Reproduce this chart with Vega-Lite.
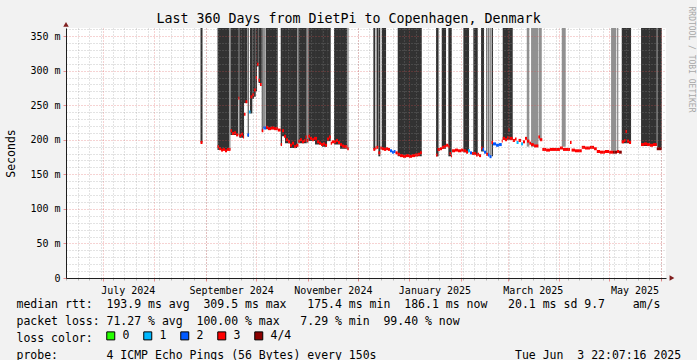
{
  "$schema": "https://vega.github.io/schema/vega-lite/v6.json",
  "width": 600,
  "height": 250,
  "autosize": {"type": "none"},
  "padding": {"left": 66, "top": 28, "right": 31, "bottom": 82},
  "background": "#f2f2f2",
  "config": {"font": "DejaVu Sans Mono", "view": {"stroke": null, "fill": "#ffffff"}},
  "datasets": {
    "smoke": [
      {"t0":"2024-08-28T15:00","t1":"2024-08-29T20:00","low":196,"shade":"dark"},
      {"t0":"2024-09-07T20:00","t1":"2024-09-14T18:00","low":185,"shade":"dark"},
      {"t0":"2024-09-14T18:00","t1":"2024-09-15T15:00","low":185,"shade":"light"},
      {"t0":"2024-09-15T15:00","t1":"2024-09-20T08:00","low":207,"shade":"dark"},
      {"t0":"2024-09-20T08:00","t1":"2024-09-20T22:00","low":259,"shade":"dark"},
      {"t0":"2024-09-20T22:00","t1":"2024-09-23T18:00","low":203,"shade":"dark"},
      {"t0":"2024-09-23T18:00","t1":"2024-09-25T17:00","low":253,"shade":"dark"},
      {"t0":"2024-09-25T23:00","t1":"2024-09-26T13:00","low":204,"shade":"dark"},
      {"t0":"2024-09-27T08:00","t1":"2024-09-28T17:00","low":238,"shade":"dark"},
      {"t0":"2024-09-28T17:00","t1":"2024-09-29T18:00","low":259,"shade":"dark"},
      {"t0":"2024-09-29T18:00","t1":"2024-09-30T18:00","low":262,"shade":"dark"},
      {"t0":"2024-09-30T18:00","t1":"2024-10-01T13:00","low":270,"shade":"dark"},
      {"t0":"2024-10-01T13:00","t1":"2024-10-02T11:00","low":306,"shade":"dark"},
      {"t0":"2024-10-02T11:00","t1":"2024-10-04T09:00","low":282,"shade":"dark"},
      {"t0":"2024-10-04T09:00","t1":"2024-10-04T23:00","low":212,"shade":"dark"},
      {"t0":"2024-10-04T23:00","t1":"2024-10-06T12:00","low":217,"shade":"light"},
      {"t0":"2024-10-06T18:00","t1":"2024-10-13T23:00","low":215,"shade":"dark"},
      {"t0":"2024-10-15T18:00","t1":"2024-10-16T13:00","low":192,"shade":"dark"},
      {"t0":"2024-10-16T13:00","t1":"2024-10-18T08:00","low":205,"shade":"dark"},
      {"t0":"2024-10-18T08:00","t1":"2024-10-21T08:00","low":195,"shade":"dark"},
      {"t0":"2024-10-21T08:00","t1":"2024-10-25T13:00","low":188,"shade":"dark"},
      {"t0":"2024-10-25T13:00","t1":"2024-10-26T08:00","low":190,"shade":"light"},
      {"t0":"2024-10-26T08:00","t1":"2024-10-31T09:00","low":195,"shade":"dark"},
      {"t0":"2024-10-31T09:00","t1":"2024-11-01T08:00","low":195,"shade":"light"},
      {"t0":"2024-11-01T08:00","t1":"2024-11-05T08:00","low":198,"shade":"dark"},
      {"t0":"2024-11-05T08:00","t1":"2024-11-09T13:00","low":193,"shade":"dark"},
      {"t0":"2024-11-09T13:00","t1":"2024-11-12T13:00","low":190,"shade":"dark"},
      {"t0":"2024-11-12T13:00","t1":"2024-11-14T18:00","low":198,"shade":"dark"},
      {"t0":"2024-11-16T18:00","t1":"2024-11-20T08:00","low":193,"shade":"dark"},
      {"t0":"2024-11-20T08:00","t1":"2024-11-24T17:00","low":187,"shade":"dark"},
      {"t0":"2024-11-24T17:00","t1":"2024-11-25T13:00","low":186,"shade":"light"},
      {"t0":"2024-12-10T08:00","t1":"2024-12-11T12:00","low":186,"shade":"dark"},
      {"t0":"2024-12-12T06:00","t1":"2024-12-13T03:00","low":190,"shade":"dark"},
      {"t0":"2024-12-13T08:00","t1":"2024-12-14T12:00","low":176,"shade":"dark"},
      {"t0":"2024-12-15T09:00","t1":"2024-12-17T23:00","low":186,"shade":"dark"},
      {"t0":"2024-12-24T23:00","t1":"2025-01-08T09:00","low":176,"shade":"dark"},
      {"t0":"2025-01-16T23:00","t1":"2025-01-18T11:00","low":176,"shade":"dark"},
      {"t0":"2025-01-20T09:00","t1":"2025-01-22T23:00","low":187,"shade":"dark"},
      {"t0":"2025-01-24T08:00","t1":"2025-01-26T09:00","low":176,"shade":"dark"},
      {"t0":"2025-02-02T08:00","t1":"2025-02-05T18:00","low":182,"shade":"dark"},
      {"t0":"2025-02-08T08:00","t1":"2025-02-10T23:00","low":178,"shade":"dark"},
      {"t0":"2025-02-12T23:00","t1":"2025-02-14T18:00","low":183,"shade":"dark"},
      {"t0":"2025-02-16T03:00","t1":"2025-02-16T17:00","low":180,"shade":"dark"},
      {"t0":"2025-02-17T08:00","t1":"2025-02-17T22:00","low":178,"shade":"dark"},
      {"t0":"2025-02-18T08:00","t1":"2025-02-19T09:00","low":176,"shade":"light"},
      {"t0":"2025-02-19T13:00","t1":"2025-02-20T03:00","low":176,"shade":"dark"},
      {"t0":"2025-02-25T23:00","t1":"2025-03-03T23:00","low":200,"shade":"dark"},
      {"t0":"2025-03-12T09:00","t1":"2025-03-13T22:00","low":190,"shade":"light"},
      {"t0":"2025-03-14T23:00","t1":"2025-03-19T08:00","low":190,"shade":"light"},
      {"t0":"2025-03-19T15:00","t1":"2025-03-21T09:00","low":199,"shade":"light"},
      {"t0":"2025-04-02T09:00","t1":"2025-04-04T18:00","low":190,"shade":"light"},
      {"t0":"2025-05-01T23:00","t1":"2025-05-04T23:00","low":184,"shade":"light"},
      {"t0":"2025-05-05T09:00","t1":"2025-05-06T08:00","low":182,"shade":"light"},
      {"t0":"2025-05-08T09:00","t1":"2025-05-13T23:00","low":195,"shade":"dark"},
      {"t0":"2025-05-19T23:00","t1":"2025-05-29T09:00","low":191,"shade":"dark"},
      {"t0":"2025-05-29T17:00","t1":"2025-06-01T09:00","low":187,"shade":"dark"}
    ],
    "median": [
      {"t0":"2024-08-28T15:00","t1":"2024-08-29T20:00","v":196,"loss":"3"},
      {"t0":"2024-09-07T20:00","t1":"2024-09-08T18:00","v":190,"loss":"3"},
      {"t0":"2024-09-08T18:00","t1":"2024-09-09T23:00","v":187,"loss":"3"},
      {"t0":"2024-09-09T23:00","t1":"2024-09-11T03:00","v":185,"loss":"3"},
      {"t0":"2024-09-11T03:00","t1":"2024-09-12T08:00","v":186,"loss":"3"},
      {"t0":"2024-09-12T08:00","t1":"2024-09-13T13:00","v":184,"loss":"3"},
      {"t0":"2024-09-13T13:00","t1":"2024-09-15T15:00","v":186,"loss":"3"},
      {"t0":"2024-09-15T15:00","t1":"2024-09-16T13:00","v":213,"loss":"3"},
      {"t0":"2024-09-16T13:00","t1":"2024-09-17T18:00","v":209,"loss":"3"},
      {"t0":"2024-09-17T18:00","t1":"2024-09-18T23:00","v":210,"loss":"3"},
      {"t0":"2024-09-18T23:00","t1":"2024-09-20T08:00","v":207,"loss":"3"},
      {"t0":"2024-09-20T08:00","t1":"2024-09-20T22:00","v":260,"loss":"3"},
      {"t0":"2024-09-20T22:00","t1":"2024-09-21T23:00","v":206,"loss":"3"},
      {"t0":"2024-09-21T23:00","t1":"2024-09-23T03:00","v":208,"loss":"3"},
      {"t0":"2024-09-23T03:00","t1":"2024-09-23T18:00","v":204,"loss":"3"},
      {"t0":"2024-09-23T18:00","t1":"2024-09-24T15:00","v":237,"loss":"3"},
      {"t0":"2024-09-24T15:00","t1":"2024-09-25T17:00","v":255,"loss":"3"},
      {"t0":"2024-09-25T17:00","t1":"2024-09-26T18:00","v":207,"loss":"2"},
      {"t0":"2024-09-26T18:00","t1":"2024-09-27T15:00","v":240,"loss":"1"},
      {"t0":"2024-09-27T15:00","t1":"2024-09-28T17:00","v":262,"loss":"3"},
      {"t0":"2024-09-28T17:00","t1":"2024-09-29T18:00","v":265,"loss":"3"},
      {"t0":"2024-09-29T18:00","t1":"2024-09-30T18:00","v":272,"loss":"3"},
      {"t0":"2024-09-30T18:00","t1":"2024-10-01T13:00","v":290,"loss":"3"},
      {"t0":"2024-10-01T13:00","t1":"2024-10-02T11:00","v":309,"loss":"3"},
      {"t0":"2024-10-02T11:00","t1":"2024-10-03T08:00","v":286,"loss":"3"},
      {"t0":"2024-10-03T08:00","t1":"2024-10-04T09:00","v":280,"loss":"3"},
      {"t0":"2024-10-04T09:00","t1":"2024-10-05T08:00","v":213,"loss":"3"},
      {"t0":"2024-10-05T08:00","t1":"2024-10-06T23:00","v":217,"loss":"2"},
      {"t0":"2024-10-06T23:00","t1":"2024-10-08T03:00","v":218,"loss":"3"},
      {"t0":"2024-10-08T03:00","t1":"2024-10-09T23:00","v":216,"loss":"3"},
      {"t0":"2024-10-09T23:00","t1":"2024-10-11T18:00","v":217,"loss":"3"},
      {"t0":"2024-10-11T18:00","t1":"2024-10-13T23:00","v":216,"loss":"3"},
      {"t0":"2024-10-13T23:00","t1":"2024-10-15T18:00","v":214,"loss":"3"},
      {"t0":"2024-10-15T18:00","t1":"2024-10-16T13:00","v":193,"loss":"3"},
      {"t0":"2024-10-16T13:00","t1":"2024-10-17T18:00","v":213,"loss":"3"},
      {"t0":"2024-10-17T18:00","t1":"2024-10-18T23:00","v":205,"loss":"3"},
      {"t0":"2024-10-18T23:00","t1":"2024-10-20T03:00","v":200,"loss":"3"},
      {"t0":"2024-10-20T03:00","t1":"2024-10-21T08:00","v":197,"loss":"3"},
      {"t0":"2024-10-21T08:00","t1":"2024-10-22T13:00","v":192,"loss":"3"},
      {"t0":"2024-10-22T13:00","t1":"2024-10-23T18:00","v":195,"loss":"3"},
      {"t0":"2024-10-23T18:00","t1":"2024-10-24T23:00","v":190,"loss":"3"},
      {"t0":"2024-10-24T23:00","t1":"2024-10-26T08:00","v":192,"loss":"3"},
      {"t0":"2024-10-26T08:00","t1":"2024-10-27T08:00","v":198,"loss":"3"},
      {"t0":"2024-10-27T08:00","t1":"2024-10-28T13:00","v":200,"loss":"3"},
      {"t0":"2024-10-28T13:00","t1":"2024-10-29T18:00","v":197,"loss":"3"},
      {"t0":"2024-10-29T18:00","t1":"2024-10-30T15:00","v":199,"loss":"3"},
      {"t0":"2024-10-30T15:00","t1":"2024-10-31T09:00","v":204,"loss":"3"},
      {"t0":"2024-10-31T09:00","t1":"2024-11-01T08:00","v":199,"loss":"3"},
      {"t0":"2024-11-01T08:00","t1":"2024-11-02T08:00","v":205,"loss":"3"},
      {"t0":"2024-11-02T08:00","t1":"2024-11-03T13:00","v":202,"loss":"3"},
      {"t0":"2024-11-03T13:00","t1":"2024-11-04T18:00","v":200,"loss":"3"},
      {"t0":"2024-11-04T18:00","t1":"2024-11-06T13:00","v":202,"loss":"3"},
      {"t0":"2024-11-06T13:00","t1":"2024-11-07T18:00","v":197,"loss":"3"},
      {"t0":"2024-11-07T18:00","t1":"2024-11-08T23:00","v":195,"loss":"3"},
      {"t0":"2024-11-08T23:00","t1":"2024-11-10T03:00","v":193,"loss":"3"},
      {"t0":"2024-11-10T03:00","t1":"2024-11-11T08:00","v":194,"loss":"3"},
      {"t0":"2024-11-11T08:00","t1":"2024-11-12T13:00","v":192,"loss":"3"},
      {"t0":"2024-11-12T13:00","t1":"2024-11-13T18:00","v":201,"loss":"3"},
      {"t0":"2024-11-13T18:00","t1":"2024-11-14T18:00","v":204,"loss":"3"},
      {"t0":"2024-11-14T18:00","t1":"2024-11-15T13:00","v":195,"loss":"3"},
      {"t0":"2024-11-15T13:00","t1":"2024-11-17T23:00","v":197,"loss":"3"},
      {"t0":"2024-11-17T23:00","t1":"2024-11-19T03:00","v":199,"loss":"3"},
      {"t0":"2024-11-19T03:00","t1":"2024-11-20T08:00","v":196,"loss":"3"},
      {"t0":"2024-11-20T08:00","t1":"2024-11-21T13:00","v":193,"loss":"3"},
      {"t0":"2024-11-21T13:00","t1":"2024-11-22T18:00","v":191,"loss":"3"},
      {"t0":"2024-11-22T18:00","t1":"2024-11-24T17:00","v":190,"loss":"3"},
      {"t0":"2024-11-24T17:00","t1":"2024-11-25T13:00","v":187,"loss":"3"},
      {"t0":"2024-12-10T08:00","t1":"2024-12-11T12:00","v":186,"loss":"3"},
      {"t0":"2024-12-11T12:00","t1":"2024-12-12T06:00","v":188,"loss":"3"},
      {"t0":"2024-12-12T06:00","t1":"2024-12-13T08:00","v":189,"loss":"3"},
      {"t0":"2024-12-13T08:00","t1":"2024-12-14T12:00","v":181,"loss":"3"},
      {"t0":"2024-12-14T12:00","t1":"2024-12-15T13:00","v":188,"loss":"3"},
      {"t0":"2024-12-15T13:00","t1":"2024-12-16T18:00","v":187,"loss":"3"},
      {"t0":"2024-12-16T18:00","t1":"2024-12-17T23:00","v":186,"loss":"3"},
      {"t0":"2024-12-17T23:00","t1":"2024-12-19T03:00","v":187,"loss":"3"},
      {"t0":"2024-12-19T03:00","t1":"2024-12-20T08:00","v":186,"loss":"3"},
      {"t0":"2024-12-20T08:00","t1":"2024-12-21T13:00","v":184,"loss":"2"},
      {"t0":"2024-12-21T13:00","t1":"2024-12-22T18:00","v":182,"loss":"2"},
      {"t0":"2024-12-22T18:00","t1":"2024-12-23T15:00","v":183,"loss":"2"},
      {"t0":"2024-12-23T15:00","t1":"2024-12-24T23:00","v":181,"loss":"3"},
      {"t0":"2024-12-24T23:00","t1":"2024-12-26T08:00","v":179,"loss":"3"},
      {"t0":"2024-12-26T08:00","t1":"2024-12-28T03:00","v":177,"loss":"3"},
      {"t0":"2024-12-28T03:00","t1":"2024-12-29T23:00","v":176,"loss":"3"},
      {"t0":"2024-12-29T23:00","t1":"2024-12-31T18:00","v":177,"loss":"3"},
      {"t0":"2024-12-31T18:00","t1":"2025-01-02T13:00","v":176,"loss":"3"},
      {"t0":"2025-01-02T13:00","t1":"2025-01-04T08:00","v":177,"loss":"3"},
      {"t0":"2025-01-04T08:00","t1":"2025-01-06T03:00","v":178,"loss":"3"},
      {"t0":"2025-01-06T03:00","t1":"2025-01-07T08:00","v":179,"loss":"3"},
      {"t0":"2025-01-07T08:00","t1":"2025-01-08T09:00","v":181,"loss":"3"},
      {"t0":"2025-01-16T23:00","t1":"2025-01-17T20:00","v":178,"loss":"3"},
      {"t0":"2025-01-17T20:00","t1":"2025-01-19T08:00","v":186,"loss":"3"},
      {"t0":"2025-01-19T08:00","t1":"2025-01-20T13:00","v":187,"loss":"3"},
      {"t0":"2025-01-20T13:00","t1":"2025-01-21T18:00","v":189,"loss":"3"},
      {"t0":"2025-01-21T18:00","t1":"2025-01-22T23:00","v":190,"loss":"3"},
      {"t0":"2025-01-22T23:00","t1":"2025-01-24T08:00","v":192,"loss":"3"},
      {"t0":"2025-01-24T08:00","t1":"2025-01-25T01:00","v":190,"loss":"3"},
      {"t0":"2025-01-25T01:00","t1":"2025-01-25T23:00","v":180,"loss":"3"},
      {"t0":"2025-01-25T23:00","t1":"2025-01-26T13:00","v":177,"loss":"3"},
      {"t0":"2025-01-26T13:00","t1":"2025-01-28T08:00","v":184,"loss":"3"},
      {"t0":"2025-01-28T08:00","t1":"2025-01-30T03:00","v":185,"loss":"3"},
      {"t0":"2025-01-30T03:00","t1":"2025-01-31T23:00","v":184,"loss":"3"},
      {"t0":"2025-01-31T23:00","t1":"2025-02-02T08:00","v":185,"loss":"3"},
      {"t0":"2025-02-02T08:00","t1":"2025-02-03T23:00","v":184,"loss":"3"},
      {"t0":"2025-02-03T23:00","t1":"2025-02-05T03:00","v":182,"loss":"3"},
      {"t0":"2025-02-05T03:00","t1":"2025-02-06T08:00","v":184,"loss":"1"},
      {"t0":"2025-02-06T08:00","t1":"2025-02-07T13:00","v":181,"loss":"2"},
      {"t0":"2025-02-07T13:00","t1":"2025-02-08T08:00","v":180,"loss":"3"},
      {"t0":"2025-02-08T08:00","t1":"2025-02-09T23:00","v":180,"loss":"3"},
      {"t0":"2025-02-09T23:00","t1":"2025-02-10T23:00","v":178,"loss":"3"},
      {"t0":"2025-02-10T23:00","t1":"2025-02-11T18:00","v":179,"loss":"3"},
      {"t0":"2025-02-11T18:00","t1":"2025-02-12T23:00","v":177,"loss":"3"},
      {"t0":"2025-02-12T23:00","t1":"2025-02-13T20:00","v":188,"loss":"3"},
      {"t0":"2025-02-13T20:00","t1":"2025-02-14T18:00","v":186,"loss":"2"},
      {"t0":"2025-02-14T18:00","t1":"2025-02-15T23:00","v":182,"loss":"2"},
      {"t0":"2025-02-15T23:00","t1":"2025-02-17T03:00","v":179,"loss":"3"},
      {"t0":"2025-02-17T03:00","t1":"2025-02-18T01:00","v":178,"loss":"2"},
      {"t0":"2025-02-18T01:00","t1":"2025-02-19T06:00","v":175.5,"loss":"2"},
      {"t0":"2025-02-19T06:00","t1":"2025-02-20T03:00","v":196,"loss":"3"},
      {"t0":"2025-02-20T03:00","t1":"2025-02-21T23:00","v":194,"loss":"2"},
      {"t0":"2025-02-21T23:00","t1":"2025-02-23T18:00","v":192,"loss":"2"},
      {"t0":"2025-02-23T18:00","t1":"2025-02-25T09:00","v":193,"loss":"2"},
      {"t0":"2025-02-25T09:00","t1":"2025-02-25T23:00","v":198,"loss":"3"},
      {"t0":"2025-02-25T23:00","t1":"2025-02-27T08:00","v":202,"loss":"3"},
      {"t0":"2025-02-27T08:00","t1":"2025-02-28T13:00","v":200,"loss":"3"},
      {"t0":"2025-02-28T13:00","t1":"2025-03-01T11:00","v":203,"loss":"3"},
      {"t0":"2025-03-01T11:00","t1":"2025-03-02T01:00","v":214,"loss":"3"},
      {"t0":"2025-03-02T01:00","t1":"2025-03-03T23:00","v":202,"loss":"3"},
      {"t0":"2025-03-03T23:00","t1":"2025-03-05T08:00","v":199,"loss":"3"},
      {"t0":"2025-03-05T08:00","t1":"2025-03-06T06:00","v":201,"loss":"3"},
      {"t0":"2025-03-06T06:00","t1":"2025-03-07T11:00","v":196,"loss":"1"},
      {"t0":"2025-03-07T11:00","t1":"2025-03-08T23:00","v":199,"loss":"3"},
      {"t0":"2025-03-08T23:00","t1":"2025-03-10T03:00","v":194,"loss":"1"},
      {"t0":"2025-03-10T03:00","t1":"2025-03-11T08:00","v":197,"loss":"3"},
      {"t0":"2025-03-11T08:00","t1":"2025-03-12T13:00","v":202,"loss":"3"},
      {"t0":"2025-03-12T13:00","t1":"2025-03-13T22:00","v":198,"loss":"3"},
      {"t0":"2025-03-13T22:00","t1":"2025-03-14T23:00","v":195,"loss":"3"},
      {"t0":"2025-03-14T23:00","t1":"2025-03-16T18:00","v":193,"loss":"3"},
      {"t0":"2025-03-16T18:00","t1":"2025-03-19T08:00","v":191,"loss":"3"},
      {"t0":"2025-03-19T08:00","t1":"2025-03-20T08:00","v":204,"loss":"3"},
      {"t0":"2025-03-20T08:00","t1":"2025-03-21T17:00","v":200,"loss":"3"},
      {"t0":"2025-03-21T17:00","t1":"2025-03-23T23:00","v":186,"loss":"3"},
      {"t0":"2025-03-23T23:00","t1":"2025-03-26T08:00","v":185,"loss":"3"},
      {"t0":"2025-03-26T08:00","t1":"2025-03-29T08:00","v":186,"loss":"3"},
      {"t0":"2025-03-29T08:00","t1":"2025-04-01T08:00","v":186,"loss":"3"},
      {"t0":"2025-04-01T08:00","t1":"2025-04-03T03:00","v":188,"loss":"3"},
      {"t0":"2025-04-03T03:00","t1":"2025-04-07T08:00","v":186,"loss":"3"},
      {"t0":"2025-04-07T08:00","t1":"2025-04-08T06:00","v":196,"loss":"3"},
      {"t0":"2025-04-08T06:00","t1":"2025-04-10T08:00","v":185,"loss":"3"},
      {"t0":"2025-04-10T08:00","t1":"2025-04-14T09:00","v":184,"loss":"3"},
      {"t0":"2025-04-14T09:00","t1":"2025-04-16T08:00","v":189,"loss":"3"},
      {"t0":"2025-04-16T08:00","t1":"2025-04-19T08:00","v":188,"loss":"3"},
      {"t0":"2025-04-19T08:00","t1":"2025-04-21T18:00","v":189,"loss":"3"},
      {"t0":"2025-04-21T18:00","t1":"2025-04-23T09:00","v":187,"loss":"3"},
      {"t0":"2025-04-23T09:00","t1":"2025-04-25T08:00","v":183,"loss":"3"},
      {"t0":"2025-04-25T08:00","t1":"2025-04-28T08:00","v":182,"loss":"3"},
      {"t0":"2025-04-28T08:00","t1":"2025-04-30T18:00","v":183,"loss":"3"},
      {"t0":"2025-04-30T18:00","t1":"2025-05-03T03:00","v":182,"loss":"3"},
      {"t0":"2025-05-03T03:00","t1":"2025-05-05T13:00","v":182,"loss":"4/4"},
      {"t0":"2025-05-05T13:00","t1":"2025-05-06T18:00","v":183,"loss":"3"},
      {"t0":"2025-05-06T18:00","t1":"2025-05-08T09:00","v":182,"loss":"4/4"},
      {"t0":"2025-05-08T09:00","t1":"2025-05-09T18:00","v":197,"loss":"3"},
      {"t0":"2025-05-09T18:00","t1":"2025-05-10T15:00","v":199,"loss":"3"},
      {"t0":"2025-05-10T15:00","t1":"2025-05-11T13:00","v":212,"loss":"3"},
      {"t0":"2025-05-11T13:00","t1":"2025-05-12T18:00","v":198,"loss":"3"},
      {"t0":"2025-05-12T18:00","t1":"2025-05-13T23:00","v":196,"loss":"3"},
      {"t0":"2025-05-19T23:00","t1":"2025-05-21T18:00","v":193,"loss":"3"},
      {"t0":"2025-05-21T18:00","t1":"2025-05-23T13:00","v":194,"loss":"3"},
      {"t0":"2025-05-23T13:00","t1":"2025-05-25T08:00","v":193,"loss":"3"},
      {"t0":"2025-05-25T08:00","t1":"2025-05-27T03:00","v":192,"loss":"3"},
      {"t0":"2025-05-27T03:00","t1":"2025-05-29T09:00","v":193,"loss":"3"},
      {"t0":"2025-05-29T09:00","t1":"2025-06-01T09:00","v":187,"loss":"4/4"}
    ]
  },
  "layer": [
    {
      "data": {"name": "smoke"},
      "mark": {"type": "rect", "clip": true},
      "encoding": {
        "x": {"field": "t0", "type": "temporal",
          "scale": {"domain": [{"year": 2024, "month": 6, "date": 8, "hours": 22, "minutes": 7}, {"year": 2025, "month": 6, "date": 3, "hours": 22, "minutes": 7}], "nice": false},
          "axis": {"orient": "bottom", "tickCount": {"interval": "week", "step": 1}, "grid": true, "gridColor": "#8f8f8f", "gridOpacity": 0.5, "gridDash": [1, 2], "gridWidth": 1, "labels": false, "ticks": true, "tickSize": 2, "tickColor": "#8f8f8f", "tickOpacity": 0.6, "domain": false, "title": null, "zindex": 1}},
        "x2": {"field": "t1"},
        "y": {"field": "low", "type": "quantitative",
          "scale": {"domain": [0, 361.6], "nice": false, "zero": true},
          "axis": {"orient": "left", "values": [10, 20, 30, 40, 60, 70, 80, 90, 110, 120, 130, 140, 160, 170, 180, 190, 210, 220, 230, 240, 260, 270, 280, 290, 310, 320, 330, 340, 360], "grid": true, "gridColor": "#8f8f8f", "gridOpacity": 0.5, "gridDash": [1, 2], "gridWidth": 1, "labels": false, "ticks": false, "domain": false, "title": null, "zindex": 1}},
        "y2": {"datum": 400},
        "fill": {"field": "shade", "type": "nominal", "scale": {"domain": ["dark", "light"], "range": ["#323232", "#919191"]}, "legend": null}
      }
    },
    {
      "data": {"name": "median"},
      "mark": {"type": "rect", "yOffset": -1.5, "y2Offset": 1.5, "clip": true},
      "encoding": {
        "x": {"field": "t0", "type": "temporal",
          "scale": {"domain": [{"year": 2024, "month": 6, "date": 8, "hours": 22, "minutes": 7}, {"year": 2025, "month": 6, "date": 3, "hours": 22, "minutes": 7}], "nice": false},
          "axis": {"orient": "bottom", "tickCount": {"interval": "month", "step": 1}, "grid": true, "gridColor": "#de4f4f", "gridOpacity": 0.5, "gridDash": [1, 2], "gridWidth": 1, "labels": false, "ticks": true, "tickSize": 3, "tickColor": "#de4f4f", "tickOpacity": 0.6, "domain": false, "title": null, "zindex": 1}},
        "x2": {"field": "t1"},
        "y": {"field": "v", "type": "quantitative",
          "scale": {"domain": [0, 361.6], "nice": false, "zero": true},
          "axis": {"orient": "left", "values": [0, 50, 100, 150, 200, 250, 300, 350], "labelExpr": "datum.value == 0 ? '0\u00a0' : datum.value + ' m'", "labelFont": "DejaVu Sans Mono", "labelFontSize": 10, "labelColor": "#000000", "labelPadding": 3, "ticks": true, "tickSize": 3, "tickColor": "#de4f4f", "tickOpacity": 0.6, "grid": true, "gridColor": "#de4f4f", "gridOpacity": 0.5, "gridDash": [1, 2], "gridWidth": 1, "domain": true, "domainColor": "#1f1f1f", "domainWidth": 1, "title": "Seconds", "titleFont": "DejaVu Sans Mono", "titleFontSize": 11.5, "titleFontWeight": "normal", "titleColor": "#000000", "titleX": -55, "titleY": 125, "titleAngle": 270, "titleAlign": "center", "titleBaseline": "middle", "zindex": 1}},
        "y2": {"field": "v"},
        "color": {"field": "loss", "type": "nominal",
          "scale": {"domain": ["0", "1", "2", "3", "4/4"], "range": ["#26ff00", "#00b8ff", "#0059ff", "#ff0000", "#8b0000"]},
          "legend": {"orient": "none", "legendX": 39, "legendY": 302, "direction": "horizontal", "title": null, "labelFont": "DejaVu Sans Mono", "labelFontSize": 11.5, "labelColor": "#000000", "labelOffset": 6, "columnPadding": 11, "symbolType": "square", "symbolSize": 64, "symbolStrokeColor": "#000000", "symbolStrokeWidth": 1, "symbolOpacity": 1, "padding": 0, "rowPadding": 0}}
      }
    },
    {
      "data": {"values": [{}]},
      "mark": {"type": "point", "shape": "triangle-right", "filled": true, "size": 30, "color": "#801f1f", "opacity": 1},
      "encoding": {
        "x": {"datum": {"year": 2025, "month": 6, "date": 7, "hours": 12}, "type": "temporal",
          "scale": {"domain": [{"year": 2024, "month": 6, "date": 8, "hours": 22, "minutes": 7}, {"year": 2025, "month": 6, "date": 3, "hours": 22, "minutes": 7}], "nice": false},
          "axis": {"orient": "bottom", "values": [{"year": 2024, "month": 7, "date": 16}, {"year": 2024, "month": 9, "date": 16}, {"year": 2024, "month": 11, "date": 16}, {"year": 2025, "month": 1, "date": 16}, {"year": 2025, "month": 3, "date": 16}, {"year": 2025, "month": 5, "date": 16}], "format": "%B %Y", "labelFont": "DejaVu Sans Mono", "labelFontSize": 10, "labelColor": "#000000", "labelPadding": 7, "labelOverlap": false, "labelFlush": false, "ticks": false, "grid": false, "domain": true, "domainColor": "#1f1f1f", "domainWidth": 1,
            "title": ["median rtt:\u00a0\u00a0193.9 ms avg\u00a0\u00a0309.5 ms max\u00a0\u00a0\u00a0175.4 ms min\u00a0\u00a0186.1 ms now\u00a0\u00a0\u00a020.1 ms sd 9.7\u00a0\u00a0\u00a0\u00a0am/s", "packet loss: 71.27 % avg\u00a0\u00a0100.00 % max\u00a0\u00a0\u00a07.29 % min\u00a0\u00a099.40 % now", "loss color:", "probe:\u00a0\u00a0\u00a0\u00a0\u00a0\u00a0\u00a04 ICMP Echo Pings (56 Bytes) every 150s\u00a0\u00a0\u00a0\u00a0\u00a0\u00a0\u00a0\u00a0\u00a0\u00a0\u00a0\u00a0\u00a0\u00a0\u00a0\u00a0\u00a0\u00a0\u00a0\u00a0Tue Jun\u00a0\u00a03 22:07:16 2025"],
            "titleFont": "DejaVu Sans Mono", "titleFontSize": 11.5, "titleFontWeight": "normal", "titleColor": "#000000", "titleX": -50, "titleY": 29, "titleAlign": "left", "titleAnchor": "start", "titleBaseline": "alphabetic", "titleLineHeight": 17, "zindex": 1}},
        "y": {"datum": 0, "type": "quantitative",
          "scale": {"domain": [0, 361.6], "nice": false, "zero": true},
          "axis": {"orient": "right", "labels": false, "ticks": false, "domain": false, "grid": false, "title": "RRDTOOL / TOBI OETIKER", "titleFont": "DejaVu Sans Mono", "titleFontSize": 8, "titleFontWeight": "normal", "titleColor": "#a8a8a8", "titleAngle": 90, "titleX": 24, "titleY": 31, "titleAlign": "center", "titleBaseline": "middle", "zindex": 1}}
      }
    },
    {
      "data": {"values": [{}]},
      "mark": {"type": "point", "shape": "triangle-up", "filled": true, "size": 30, "color": "#801f1f", "opacity": 1},
      "encoding": {
        "x": {"datum": {"year": 2024, "month": 6, "date": 8, "hours": 22, "minutes": 7}, "type": "temporal",
          "scale": {"domain": [{"year": 2024, "month": 6, "date": 8, "hours": 22, "minutes": 7}, {"year": 2025, "month": 6, "date": 3, "hours": 22, "minutes": 7}], "nice": false},
          "axis": {"orient": "top", "labels": false, "ticks": false, "domain": false, "grid": false, "title": "Last 360 Days from DietPi to Copenhagen, Denmark", "titleFont": "DejaVu Sans Mono", "titleFontSize": 13.3, "titleFontWeight": "normal", "titleColor": "#000000", "titleX": 282, "titleY": -6, "titleAlign": "center", "titleBaseline": "alphabetic", "zindex": 1}},
        "y": {"datum": 367, "type": "quantitative",
          "scale": {"domain": [0, 361.6], "nice": false, "zero": true},
          "axis": null}
      }
    }
  ],
  "resolve": {"axis": {"x": "independent", "y": "independent"}}
}
